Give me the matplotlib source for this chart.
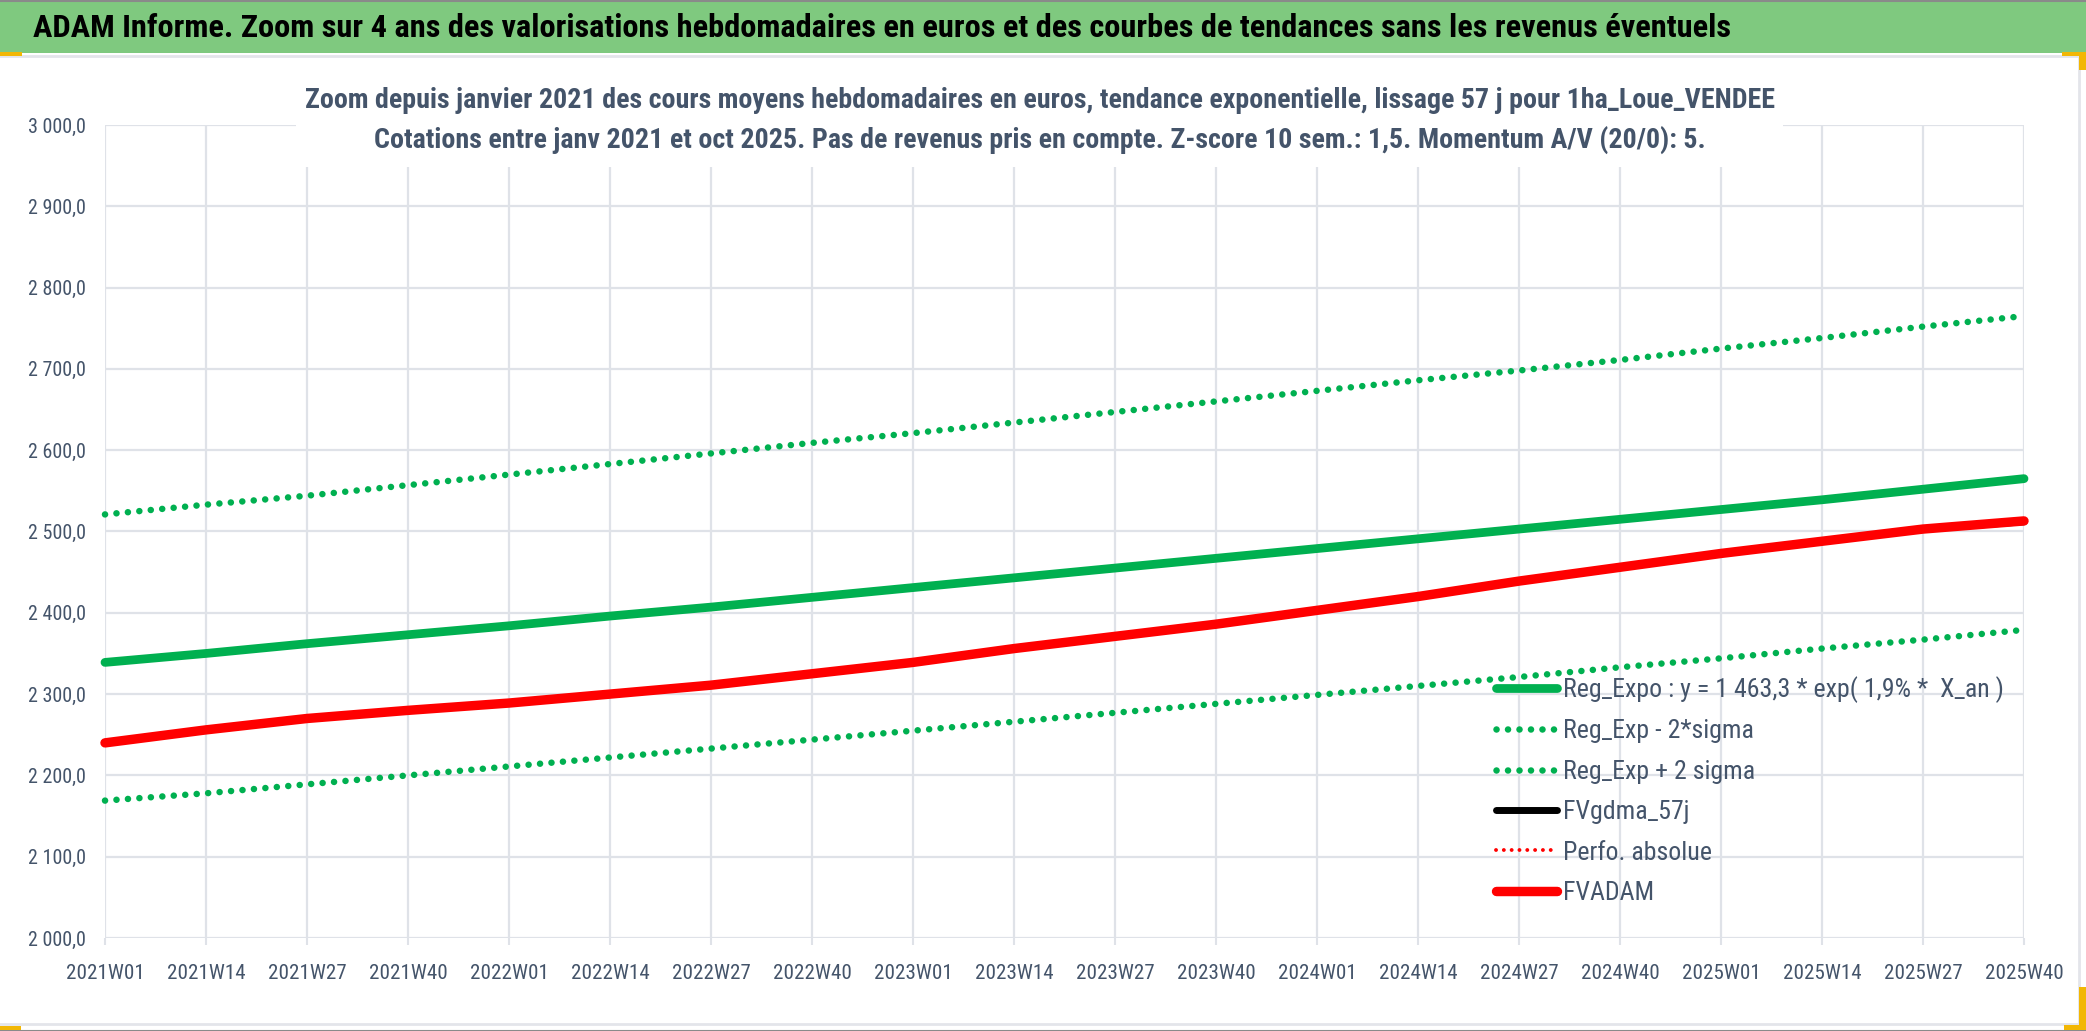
import os
import matplotlib
matplotlib.use('Agg')
import matplotlib.pyplot as plt
from matplotlib.patches import Rectangle
from matplotlib.lines import Line2D
from matplotlib.ticker import FuncFormatter, MultipleLocator, FixedLocator
from matplotlib.font_manager import FontProperties
import matplotlib.font_manager as fm

# ---------------- data ----------------
years = [2021, 2022, 2023, 2024, 2025]
weeks_per_year = [52, 52, 52, 52, 40]
categories = [f"{y}W{w:02d}" for y, n in zip(years, weeks_per_year) for w in range(1, n + 1)]
tick_labels = ["2021W01", "2021W14", "2021W27", "2021W40", "2022W01", "2022W14", "2022W27",
               "2022W40", "2023W01", "2023W14", "2023W27", "2023W40", "2024W01", "2024W14",
               "2024W27", "2024W40", "2025W01", "2025W14", "2025W27", "2025W40"]
# values read at each labelled week
reg_expo = [2339, 2350, 2362, 2373, 2384, 2396, 2407, 2419, 2431, 2443,
            2455, 2467, 2479, 2491, 2503, 2515, 2527, 2539, 2552, 2565]
reg_minus_2sigma = [2169, 2178, 2189, 2200, 2211, 2222, 2233, 2244, 2255, 2266,
                    2277, 2288, 2299, 2310, 2321, 2333, 2344, 2356, 2367, 2379]
reg_plus_2sigma = [2521, 2533, 2544, 2557, 2570, 2583, 2596, 2609, 2621, 2634,
                   2647, 2660, 2673, 2686, 2698, 2711, 2725, 2738, 2752, 2765]
fvgdma_57j = [2240, 2256, 2270, 2280, 2289, 2300, 2311, 2325, 2339, 2356,
              2371, 2386, 2403, 2420, 2439, 2456, 2473, 2488, 2503, 2512]
fvadam = [2240, 2256, 2270, 2280, 2289, 2300, 2311, 2325, 2339, 2356,
          2371, 2386, 2403, 2420, 2439, 2456, 2473, 2488, 2503, 2513]

title = ("ADAM Informe. Zoom sur 4 ans des valorisations hebdomadaires en euros et des "
         "courbes de tendances sans les revenus éventuels")
sub1 = ("Zoom depuis janvier 2021 des cours moyens hebdomadaires en euros, tendance "
        "exponentielle, lissage 57 j pour 1ha_Loue_VENDEE")
sub2 = ("Cotations entre janv 2021 et oct 2025. Pas de revenus pris en compte. "
        "Z-score 10 sem.: 1,5. Momentum A/V (20/0): 5.")
labels = ["Reg_Expo : y = 1 463,3 * exp( 1,9% *  X_an )", "Reg_Exp - 2*sigma",
          "Reg_Exp + 2 sigma", "FVgdma_57j", "Perfo. absolue", "FVADAM"]

# ---------------- fonts (narrow look, Calibri-like) ----------------
files = {os.path.basename(f.fname).lower(): f.fname for f in fm.fontManager.ttflist}


def find(patterns):
    for p in patterns:
        for k, v in files.items():
            if k.startswith(p):
                return v
    return None


REG_FILE = find(['liberationsansnarrow-regular', 'notosans-condensed.', 'robotocondensed-regular',
                 'opensans_condensed-regular', 'opensans-condlight', 'dejavusanscondensed.'])
BOLD_FILE = find(['liberationsansnarrow-bold.', 'notosans-condensedbold.', 'robotocondensed-bold.',
                  'opensans_condensed-bold.', 'opensans-condbold', 'dejavusanscondensed-bold.'])


def fp(bold=False, size=10):
    f = BOLD_FILE if bold else REG_FILE
    if f:
        return FontProperties(fname=f, size=size)
    return FontProperties(family='DejaVu Sans', weight='bold' if bold else 'normal', size=size)


# ---------------- setup ----------------
W, H, DPI = 2086, 1031, 100
TXT = '#44546A'
GRID = '#DFE2E8'
GREEN = '#00B050'
RED = '#FF0000'
DOT = (0, (0.01, 1.75))

fig = plt.figure(figsize=(W / DPI, H / DPI), dpi=DPI)
fig.patch.set_facecolor('white')
renderer = fig.canvas.get_renderer()


def px(x, y):
    return x / W, 1 - y / H


def size_for(text, target_w, bold=False):
    t = fig.text(0, 0, text, fontproperties=fp(bold, 20))
    w = t.get_window_extent(renderer).width
    t.remove()
    return 20 * target_w / w


# header bar and chart frame
fig.patches.append(Rectangle(px(0, 53), 1, 53 / H, transform=fig.transFigure,
                             facecolor='#7FC97F', edgecolor='none', zorder=1))
fig.add_artist(Line2D([0, 1], [1 - 0.5 / H] * 2, color='#8A8A8A', lw=1.5, zorder=3))
fig.add_artist(Line2D([0, 1], [1 - 55.5 / H] * 2, color='#E3E5EA', lw=2, zorder=3))
fig.add_artist(Line2D([0, 1], [1 - 1024 / H] * 2, color='#E3E5EA', lw=2, zorder=3))
fig.add_artist(Line2D([2078.5 / W] * 2, [1 - 1024 / H, 1 - 55 / H], color='#E3E5EA', lw=2, zorder=3))
fig.add_artist(Line2D([0, 1], [0.5 / H] * 2, color='#8A8A8A', lw=1.5, zorder=3))
for (x0, y0, w, h) in [(0, 52, 22, 4), (0, 1026, 21, 4), (2062, 52, 24, 4), (2079, 52, 7, 18),
                       (2064, 1025, 22, 5), (2079, 987, 7, 43)]:
    fig.patches.append(Rectangle(px(x0, y0 + h), w / W, h / H, transform=fig.transFigure,
                                 facecolor='#F2B705', edgecolor='none', zorder=4))

fs_title = size_for(title, 1696, True)
fig.text(33 / W, 1 - 28 / H, title, fontproperties=fp(True, fs_title), color='black',
         ha='left', va='center', zorder=5)

# ---------------- axes ----------------
L, R, T, B = 105, 2024, 125, 938
ax = fig.add_axes([L / W, 1 - B / H, (R - L) / W, (B - T) / H])
ax.set_facecolor('none')
for s in ax.spines.values():
    s.set_visible(False)

x_pos = [categories.index(t) for t in tick_labels]

ax.plot(x_pos, reg_expo, color=GREEN, lw=6.3, solid_capstyle='round', clip_on=False, zorder=4)
ax.plot(x_pos, reg_minus_2sigma, color=GREEN, lw=4.7, linestyle=DOT,
        dash_capstyle='round', clip_on=False, zorder=3)
ax.plot(x_pos, reg_plus_2sigma, color=GREEN, lw=4.7, linestyle=DOT,
        dash_capstyle='round', clip_on=False, zorder=3)
ax.plot(x_pos, fvgdma_57j, color='black', lw=5.0, solid_capstyle='round', clip_on=False, zorder=5)
ax.plot([], [], color=RED, lw=2.8, linestyle=(0, (0.01, 2.0)), dash_capstyle='round')
ax.plot(x_pos, fvadam, color=RED, lw=6.8, solid_capstyle='round', clip_on=False, zorder=6)

ax.set_xlim(0, len(categories) - 1)
ax.set_ylim(2000, 3000)
ax.yaxis.set_major_locator(MultipleLocator(100))
ax.yaxis.set_major_formatter(FuncFormatter(
    lambda v, p: f"{v:,.1f}".replace(',', ' ').replace('.', ',')))
ax.xaxis.set_major_locator(FixedLocator(x_pos))
ax.set_xticklabels(tick_labels)
ax.grid(True, color=GRID, lw=1.6, zorder=0)
ax.set_axisbelow(True)

fs_x = size_for("2021W01", 78)
fs_y = size_for("2 000,0", 58)
ax.tick_params(axis='x', length=5, width=1.5, color=GRID, pad=14, labelcolor=TXT)
ax.tick_params(axis='y', length=0, pad=14, labelcolor=TXT)
for t in ax.get_xticklabels():
    t.set_fontproperties(fp(False, fs_x))
for t in ax.get_yticklabels():
    t.set_fontproperties(fp(False, fs_y))

# subtitle box (hides gridlines behind the subtitle)
fig.patches.append(Rectangle(px(296, 167), (1783 - 296) / W, (167 - 60) / H,
                             transform=fig.transFigure, facecolor='white', edgecolor='none',
                             zorder=2))
fs_sub = size_for(sub1, 1470, True)
fig.text(1040 / W, 1 - 101 / H, sub1, fontproperties=fp(True, fs_sub), color=TXT,
         ha='center', va='center', zorder=5)
fig.text(1040 / W, 1 - 140 / H, sub2, fontproperties=fp(True, fs_sub), color=TXT,
         ha='center', va='center', zorder=5)

# legend
fs_leg = size_for(labels[0], 440)
fs_leg_px = fs_leg * DPI / 72
leg = ax.legend(labels, loc='upper left', bbox_to_anchor=(1496 / W, 1 - 676 / H),
                bbox_transform=fig.transFigure, frameon=False, prop=fp(False, fs_leg),
                handlelength=61 / fs_leg_px, handletextpad=6 / fs_leg_px,
                labelspacing=max(0.1, 47.5 / fs_leg_px - 1.2), borderpad=0, borderaxespad=0)
for t in leg.get_texts():
    t.set_color(TXT)
leg.set_zorder(10)

fig.savefig('out.png', dpi=DPI)
